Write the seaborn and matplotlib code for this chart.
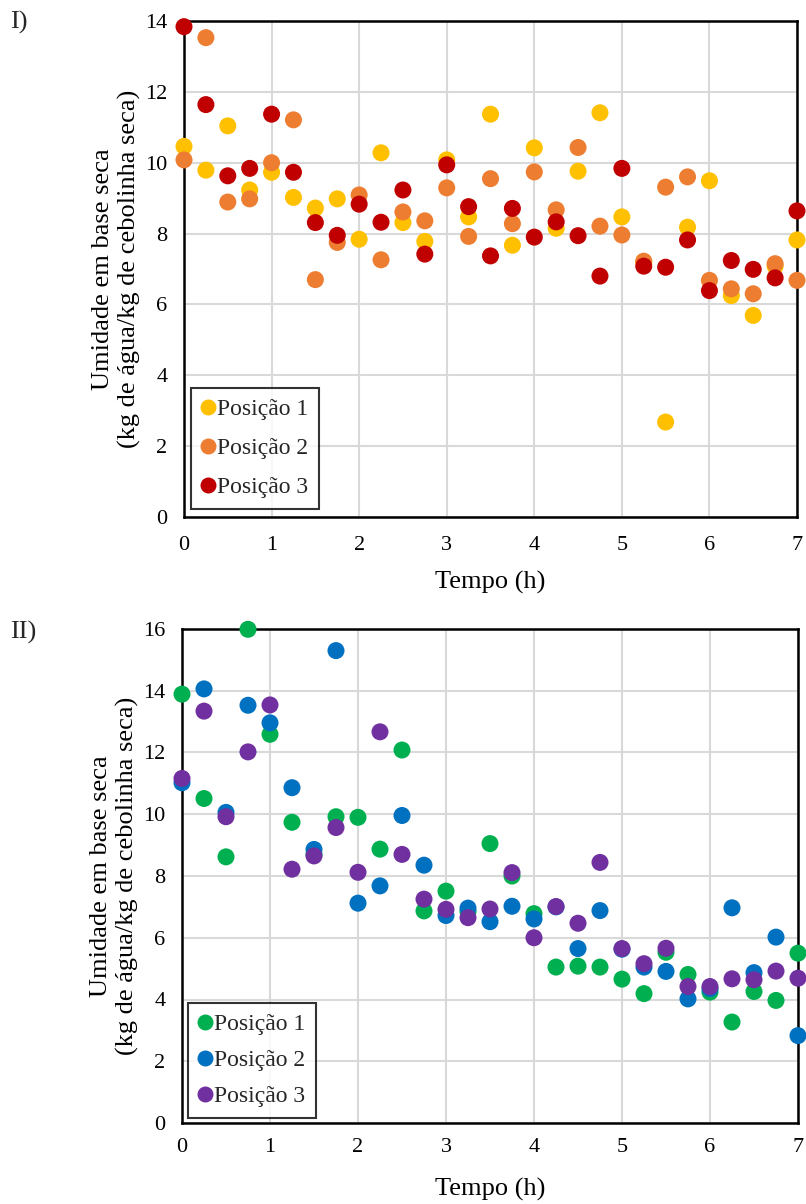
import numpy as np
import pandas as pd
import matplotlib
matplotlib.use("Agg")
import matplotlib.pyplot as plt
import seaborn as sns
from matplotlib.lines import Line2D

# ---------------- data ----------------
tempo = [0, 0.25, 0.5, 0.75, 1, 1.25, 1.5, 1.75, 2, 2.25, 2.5, 2.75, 3, 3.25, 3.5,
         3.75, 4, 4.25, 4.5, 4.75, 5, 5.25, 5.5, 5.75, 6, 6.25, 6.5, 6.75, 7]

# Panel I
i_pos1 = [10.46, 9.79, 11.04, 9.23, 9.73, 9.02, 8.72, 8.98, 7.84, 10.28, 8.31, 7.78, 10.08, 8.47, 11.37,
          7.67, 10.42, 8.15, 9.76, 11.41, 8.47, 7.20, 2.68, 8.18, 9.49, 6.25, 5.69, 7.08, 7.82]
i_pos2 = [10.08, 13.53, 8.89, 8.98, 10.00, 11.21, 6.70, 7.75, 9.09, 7.26, 8.61, 8.36, 9.29, 7.92, 9.55,
          8.28, 9.74, 8.67, 10.43, 8.21, 7.96, 7.22, 9.31, 9.60, 6.68, 6.44, 6.30, 7.15, 6.68]
i_pos3 = [13.84, 11.64, 9.63, 9.84, 11.37, 9.73, 8.31, 7.95, 8.83, 8.32, 9.23, 7.42, 9.94, 8.76, 7.37,
          8.71, 7.90, 8.33, 7.94, 6.80, 9.84, 7.08, 7.05, 7.82, 6.39, 7.24, 6.99, 6.75, 8.64]

# Panel II
ii_pos1 = [13.89, 10.51, 8.62, 15.99, 12.59, 9.74, 8.70, 9.92, 9.90, 8.87, 12.08, 6.87, 7.51, 6.85, 9.05,
           8.00, 6.78, 5.05, 5.08, 5.05, 4.66, 4.19, 5.53, 4.81, 4.24, 3.27, 4.26, 3.97, 5.50]
ii_pos2 = [11.02, 14.06, 10.06, 13.53, 12.96, 10.86, 8.86, 15.30, 7.12, 7.68, 9.96, 8.35, 6.72, 6.96, 6.52,
           7.02, 6.61, 7.00, 5.65, 6.88, 5.63, 5.05, 4.91, 4.02, 4.35, 6.97, 4.87, 6.02, 2.83]
ii_pos3 = [11.16, 13.34, 9.92, 12.02, 13.54, 8.22, 8.65, 9.57, 8.12, 12.67, 8.70, 7.25, 6.92, 6.65, 6.93,
           8.11, 6.00, 7.01, 6.47, 8.44, 5.65, 5.16, 5.66, 4.42, 4.42, 4.67, 4.64, 4.92, 4.69]

series_names = ["Posição 1", "Posição 2", "Posição 3"]
colors_i = ["#FFC000", "#ED7D31", "#C00000"]
colors_ii = ["#00B050", "#0070C0", "#7030A0"]

x_ticks = [0, 1, 2, 3, 4, 5, 6, 7]
y_ticks_i = [0, 2, 4, 6, 8, 10, 12, 14]
y_ticks_ii = [0, 2, 4, 6, 8, 10, 12, 14, 16]

ylabel = "Umidade em base seca\n(kg de água/kg de cebolinha seca)"
xlabel = "Tempo (h)"

# ---------------- style ----------------
sns.set_theme(style="white")
plt.rcParams['font.family'] = ['Liberation Serif', 'DejaVu Serif']

W, H = 806, 1204
fig = plt.figure(figsize=(W / 100, H / 100), dpi=100)


def make_df(vals):
    rows = []
    for name, v in zip(series_names, vals):
        for t, y in zip(tempo, v):
            rows.append({"Tempo": t, "Umidade": y, "Posição": name})
    return pd.DataFrame(rows)


def panel(rect, vals, colors, yticks, ylim, leg_off, xpad, xlabpad, labsp):
    l, b, w, h = rect
    ax = fig.add_axes([l / W, 1 - b / H, w / W, h / H])
    df = make_df(vals)
    sns.scatterplot(data=df, x="Tempo", y="Umidade", hue="Posição",
                    palette=dict(zip(series_names, colors)), s=150,
                    edgecolor="none", linewidth=0, ax=ax, legend=False,
                    clip_on=False, zorder=3)
    ax.set_xlim(0, 7)
    ax.set_ylim(*ylim)
    ax.set_xticks(x_ticks)
    ax.set_yticks(yticks)
    ax.set_xticklabels([str(t) for t in x_ticks], fontsize=16)
    ax.set_yticklabels([str(t) for t in yticks], fontsize=16)
    ax.tick_params(axis="x", length=0, pad=xpad, colors="black")
    ax.tick_params(axis="y", length=0, pad=12, colors="black")
    ax.grid(True, color="#D9D9D9", linewidth=1.5, zorder=0)
    ax.set_axisbelow(True)
    for sp in ax.spines.values():
        sp.set_color("black")
        sp.set_linewidth(1.8)
        sp.set_visible(True)
    ax.set_xlabel(xlabel, fontsize=19, labelpad=xlabpad, color="black")
    ax.set_ylabel(ylabel, fontsize=19, labelpad=3, color="black", linespacing=1.2)
    handles = [Line2D([0], [0], marker="o", linestyle="none", markersize=11.5,
                      markerfacecolor=c, markeredgecolor="none") for c in colors]
    leg = ax.legend(handles, series_names, loc="lower left",
                    bbox_to_anchor=(leg_off[0] / w, leg_off[1] / h), fontsize=17,
                    frameon=True, fancybox=False, edgecolor="black",
                    handlelength=0.55, handletextpad=0.12, borderpad=0.45,
                    labelspacing=labsp, borderaxespad=0)
    leg.get_frame().set_linewidth(1.5)
    leg.set_zorder(5)
    return ax


ax1 = panel((184, 517, 613, 496), [i_pos1, i_pos2, i_pos3], colors_i,
            y_ticks_i, (0, 14), (7, 8), 14, 11, 0.74)
ax2 = panel((182, 1123, 616, 494), [ii_pos1, ii_pos2, ii_pos3], colors_ii,
            y_ticks_ii, (0, 16), (6, 5), 11, 15, 0.62)

fig.text(10 / W, 1 - 22 / H, "I)", fontsize=19, va="center", ha="left")
fig.text(10 / W, 1 - 632 / H, "II)", fontsize=19, va="center", ha="left")

fig.savefig("out.png", dpi=100, facecolor="white")
